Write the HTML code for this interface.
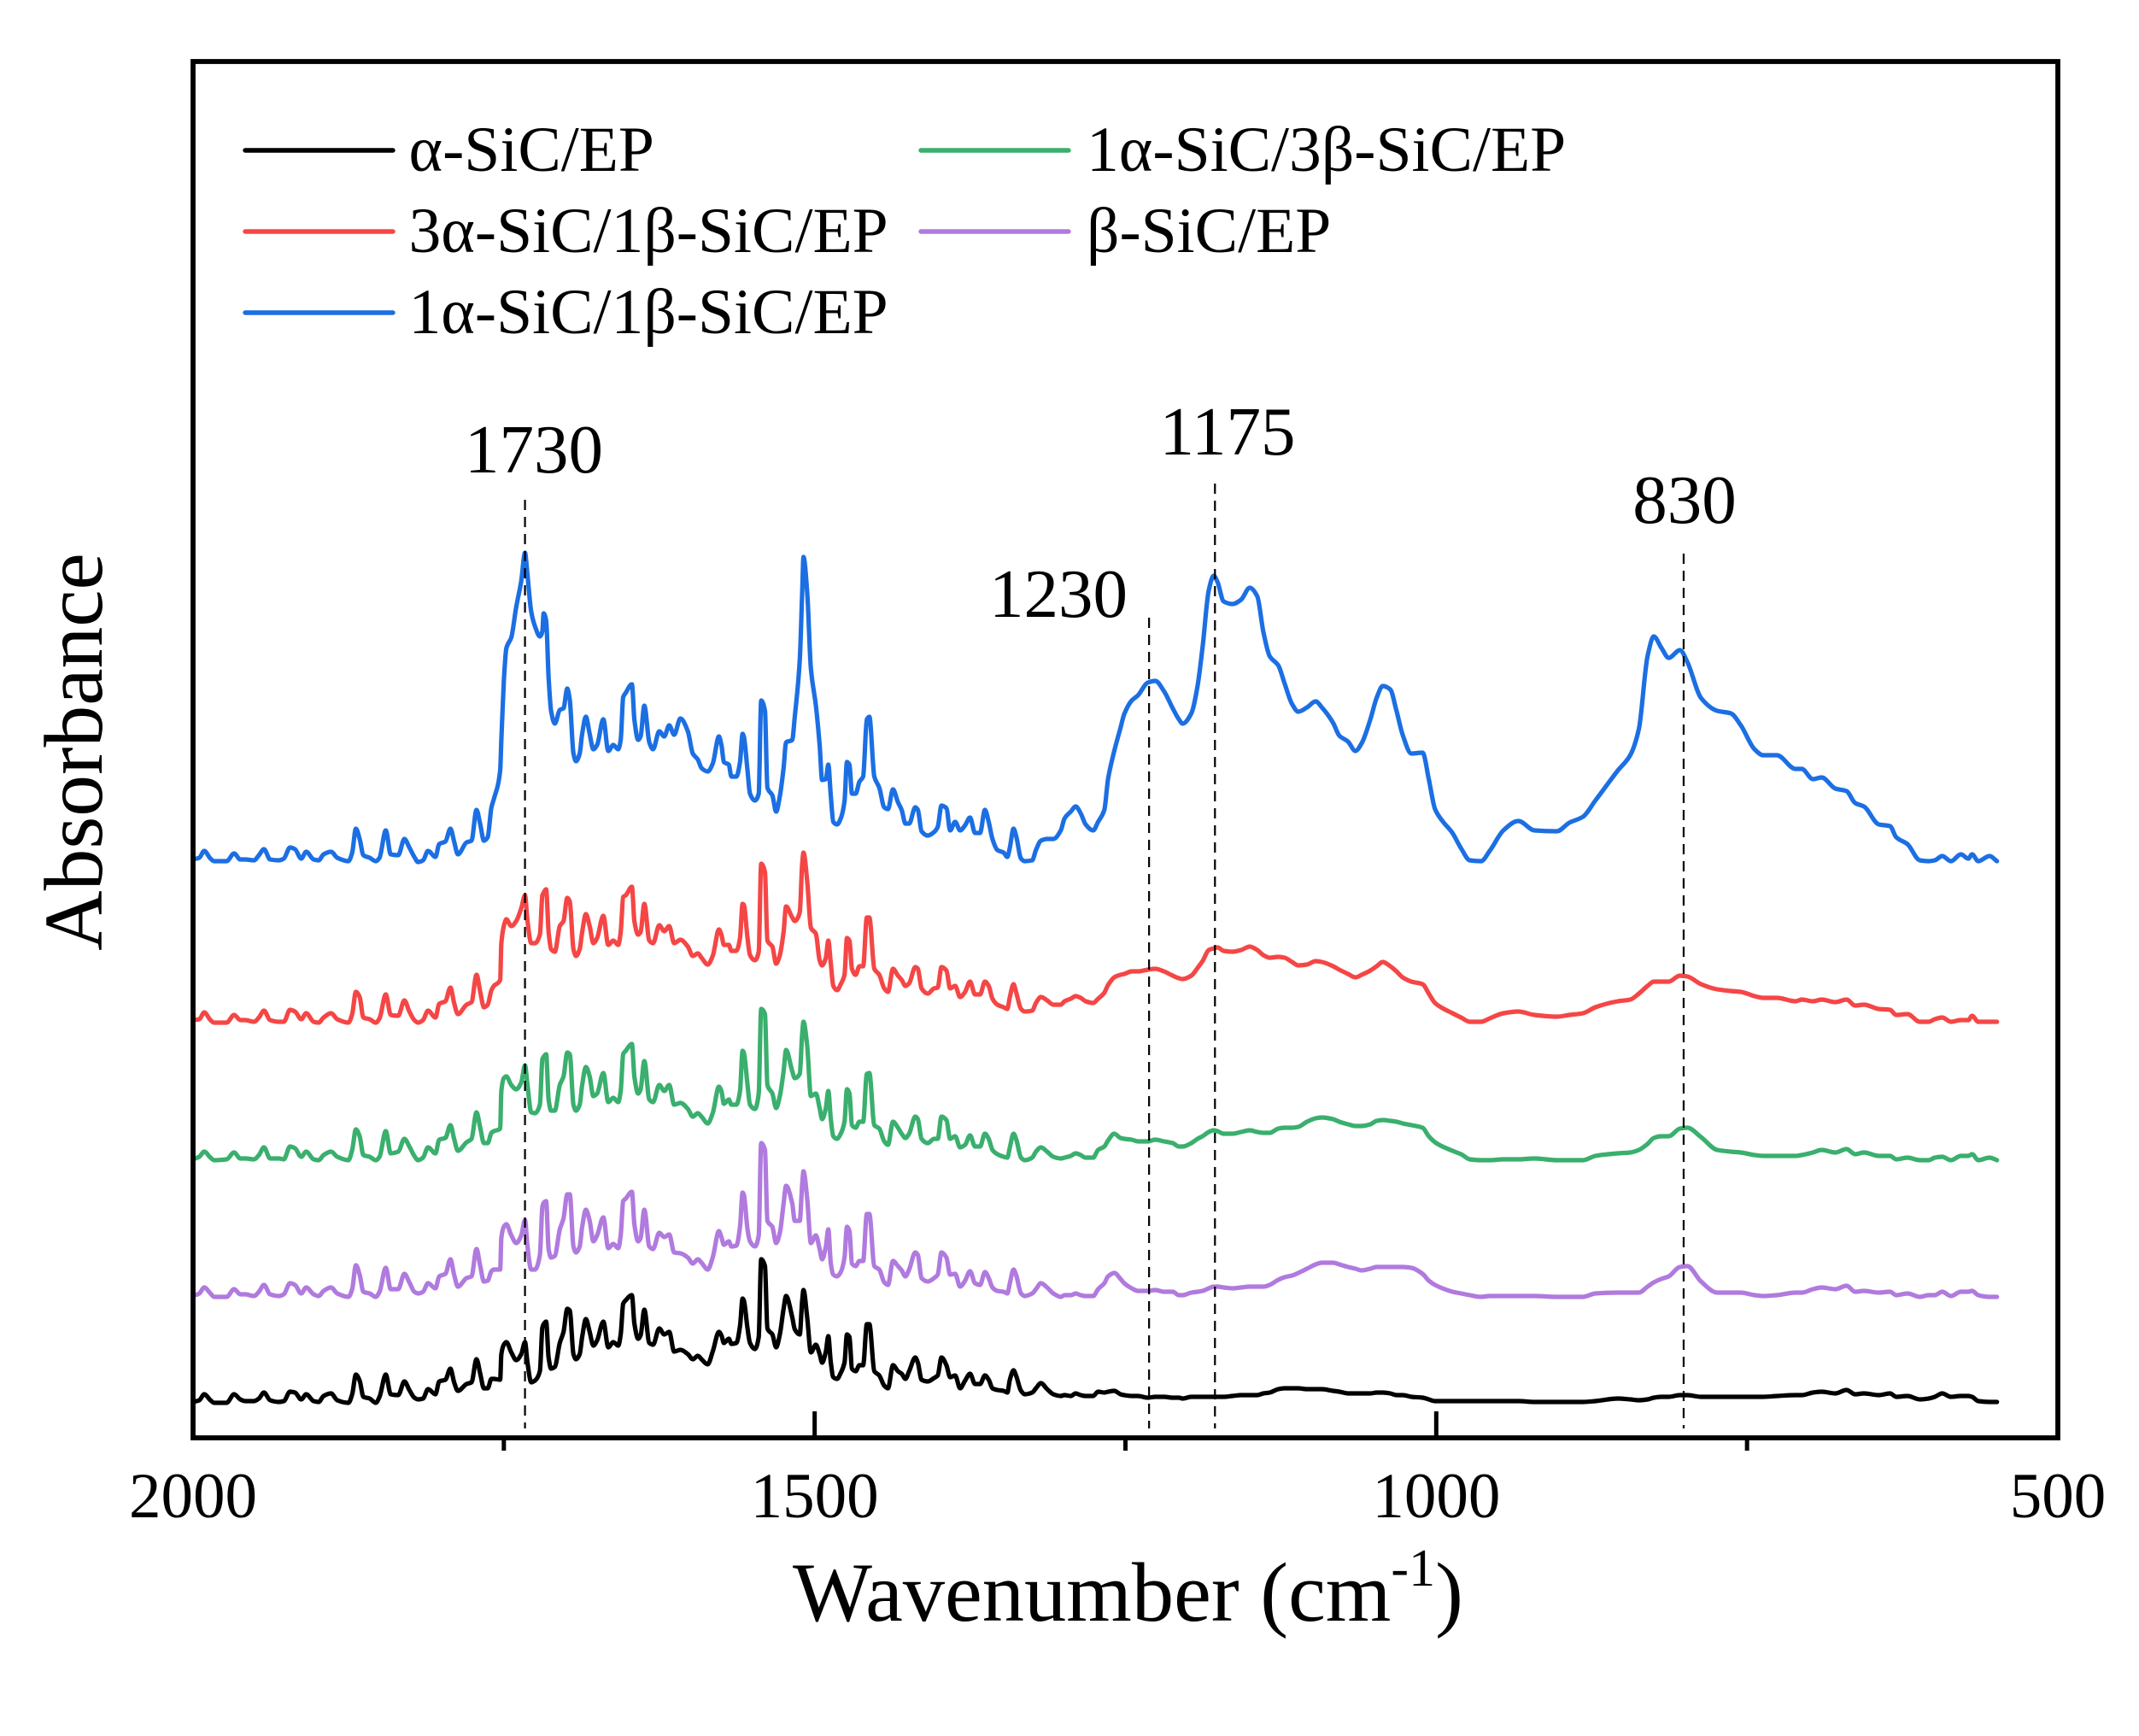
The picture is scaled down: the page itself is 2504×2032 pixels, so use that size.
<!DOCTYPE html>
<html lang="en">
<head>
<meta charset="utf-8">
<title>Absorbance spectra</title>
<style>
html,body{margin:0;padding:0;background:#fff}
svg{display:block}
text{font-family:"Liberation Serif","Noto Serif CJK SC",serif;fill:#000}
</style>
</head>
<body>
<svg id="chart" xmlns="http://www.w3.org/2000/svg" width="2504" height="2032" viewBox="0 0 2504 2032">
<rect x="0" y="0" width="2504" height="2032" fill="#fff"/>
<g id="series-layer"></g>
<g id="peak-layer"></g>
<rect x="226" y="72" width="2183" height="1611" fill="none" stroke="#000" stroke-width="5.8"/>
<g id="tick-layer"></g>
<text x="928" y="1897" font-size="98.5">Wavenumber (cm<tspan font-size="62" dy="-41">-1</tspan><tspan dy="41">)</tspan></text>
<text transform="translate(119 880) rotate(-90)" text-anchor="middle" font-size="97.5">Absorbance</text>
<g>
<line x1="287" x2="460" y1="176" y2="176" stroke="#000" stroke-width="5.4" stroke-linecap="round"/>
<text x="478.5" y="200" font-size="75.6">α-SiC/EP</text>
<line x1="287" x2="460" y1="271" y2="271" stroke="#f54646" stroke-width="5.4" stroke-linecap="round"/>
<text x="478.5" y="295" font-size="75.6">3α-SiC/1β-SiC/EP</text>
<line x1="287" x2="460" y1="366" y2="366" stroke="#1c6fe3" stroke-width="5.4" stroke-linecap="round"/>
<text x="478.5" y="390" font-size="75.6">1α-SiC/1β-SiC/EP</text>
<line x1="1078" x2="1251" y1="176" y2="176" stroke="#3aaf6e" stroke-width="5.4" stroke-linecap="round"/>
<text x="1272" y="200" font-size="75.6">1α-SiC/3β-SiC/EP</text>
<line x1="1078" x2="1251" y1="271" y2="271" stroke="#b07ade" stroke-width="5.4" stroke-linecap="round"/>
<text x="1272" y="295" font-size="75.6">β-SiC/EP</text>
</g>
<text x="625" y="553" font-size="81" text-anchor="middle">1730</text>
<text x="1437" y="532" font-size="81" text-anchor="middle">1175</text>
<text x="1239" y="722" font-size="81" text-anchor="middle">1230</text>
<text x="1972" y="612" font-size="81" text-anchor="middle">830</text>
</svg>
<script>
const wavenumbers=[
2000,1995,1991,1986,1983,1973,1967,1962,1958,1951,1947,1943,1938,1931,1927,1922,1918,1913,1909,1903,1899,1895,1889,1884,1875,1872,1869,1866,1863,1858,1853,1850,1845,1841,
1835,1830,1826,1822,1819,1815,1811,1805,1802,1797,1793,1790,1787,1780,1776,1772,1769,1766,1763,1760,1758,1753,1752,1750,1748,1744,1740,1736,1733,1731,1728,1725,1721,1719,1718,1716,1714,1712,1709,1705,1702,1699,1697,1694,1692,1689,1687,1684,1681,1678,
1675,1670,1666,1662,1658,1656,1654,1652,1647,1645,1642,1640,1637,1633,1630,1625,1621,1617,1613,1608,1602,1598,1594,1591,1586,1582,1577,1575,1573,1569,1567,1563,1560,1558,1557,1554,1552,1548,1545,1543,1540,1538,1534,1531,1528,1525,1523,1518,
1516,1512,1510,1509,1506,1503,1499,1496,1494,1491,1489,1487,1485,1482,1479,1476,1474,1472,1470,1467,1464,1461,1458,1456,1452,1448,1444,1441,1437,1433,1430,1427,1424,1419,1417,1414,1409,1404,1401,1398,1394,1391,1387,1383,1379,1375,1371,1367,1363,1360,
1357,1353,1348,1345,1343,1340,1338,1334,1331,1325,1322,1318,1313,1308,1302,1299,1294,1290,1286,1282,1276,1272,1267,1264,1259,1254,1251,1245,1240,1232,1226,1219,1212,1207,1204,
1197,1192,1188,1183,1179,1176,1171,1164,1157,1150,1144,1139,1134,1127,1122,1116,1111,1104,1097,1092,1083,1078,1071,1065,1060,1053,1048,1043,1037,1032,1027,1020,1011,1006,1001,995,987,980,973,964,957,946,934,
921,903,893,882,872,854,844,837,830,825,819,813,804,798,787,774,763,755,744,737,726,711,706,697,690,679,670,663,656,644,635,630,621,611,604,599,593,586,578,572,569,564,555,549
];
const alphaSiC=[
43,45,52,45,42,42,52,46,44,44,47,54,45,43,44,55,54,46,52,44,43,50,53,45,42,52,75,68,49,47,42,49,75,52,
51,67,57,48,46,47,58,52,67,69,82,66,56,64,66,93,76,59,59,70,70,69,99,110,113,101,92,99,113,89,66,68,79,130,134,137,95,82,84,112,125,152,150,99,93,99,119,140,125,109,
115,137,107,113,109,122,158,162,168,135,117,121,151,112,110,129,122,125,102,104,99,93,97,93,87,102,125,121,112,117,111,112,132,164,162,129,112,105,119,210,202,129,122,107,122,152,167,142,
128,122,162,174,142,101,110,99,89,102,120,89,72,70,77,89,122,119,82,79,86,86,134,134,79,74,62,59,86,79,76,70,79,95,89,69,67,71,74,95,86,72,74,59,68,76,64,64,74,69,
59,57,56,54,69,80,74,56,52,54,59,65,58,52,50,51,50,53,51,50,50,55,54,55,56,52,51,50,50,48,49,49,48,48,47,
49,49,49,49,49,49,49,50,51,51,51,53,54,58,59,59,59,58,58,58,56,55,53,53,53,53,54,54,53,51,51,49,48,46,44,44,44,44,44,44,44,44,44,
43,43,43,43,44,47,46,45,46,48,49,49,51,51,49,49,49,49,49,49,50,51,51,54,55,53,57,52,53,51,53,49,50,46,47,49,53,49,50,50,49,44,43,43
];
const betaSiC=[
167,170,177,170,166,166,175,169,169,167,172,180,169,167,169,182,180,170,177,169,167,173,177,170,166,175,203,192,172,170,166,172,200,175,
175,193,183,172,170,172,182,176,190,193,210,192,178,188,190,222,202,184,185,196,198,198,235,248,251,238,229,238,256,225,198,198,215,271,276,278,222,212,214,245,258,286,286,225,218,225,248,268,255,231,
238,259,223,228,223,238,278,281,289,251,231,235,268,225,222,241,236,239,218,217,212,205,210,206,198,212,243,236,227,231,225,226,248,288,286,245,231,225,238,346,338,255,248,229,241,275,296,275,
255,255,298,313,281,229,238,222,210,225,245,205,192,190,195,212,248,243,205,202,208,208,263,263,202,198,183,180,208,202,197,190,198,218,215,188,184,188,192,218,212,192,193,178,185,196,182,180,195,188,
177,173,172,170,182,198,192,170,167,170,175,182,177,170,166,168,168,170,168,167,167,175,182,190,194,187,182,176,173,173,174,172,172,168,168,
171,172,173,176,178,178,177,176,177,178,178,178,180,186,189,191,194,199,204,206,206,204,201,199,197,199,201,201,201,201,201,200,193,185,180,176,172,170,168,166,167,167,167,
167,166,166,166,170,171,171,171,178,183,187,190,201,202,184,171,171,171,168,167,168,171,171,175,177,175,179,172,173,171,172,168,170,166,168,168,172,167,172,172,173,168,166,166
];
const oneAlphaThreeBeta=[
327,330,336,329,326,327,335,328,328,327,332,341,328,328,327,342,340,330,336,327,326,332,336,330,326,338,362,354,332,330,326,330,360,334,
336,351,342,331,326,329,341,334,350,352,367,351,337,347,351,382,364,346,346,358,360,363,407,422,424,414,409,417,437,414,382,381,391,444,447,450,397,384,384,414,424,452,450,391,384,391,414,435,424,401,
404,428,394,399,394,407,450,454,462,424,404,409,442,397,394,414,407,414,391,393,386,377,381,377,369,381,412,407,392,397,391,391,407,454,452,414,391,386,404,503,497,414,404,387,401,430,455,430,
422,427,474,488,460,401,404,387,374,387,407,374,354,351,357,371,409,404,367,364,371,371,427,428,367,363,348,344,371,364,357,352,357,377,374,351,346,351,351,377,373,351,354,341,344,355,342,342,357,351,
338,333,330,329,341,357,351,329,326,329,336,341,336,330,328,329,331,334,332,329,329,338,342,349,357,352,351,350,348,348,350,348,346,342,342,
346,351,354,359,361,360,357,357,359,361,359,358,358,363,364,364,365,371,375,376,374,371,368,366,366,368,372,373,372,371,369,367,364,354,347,342,337,333,327,326,326,327,327,
328,326,326,326,331,334,335,338,345,352,354,354,363,364,353,338,336,335,332,331,331,331,332,335,338,335,339,333,335,331,331,327,329,326,326,329,330,326,331,331,333,326,329,326
];
const threeAlphaOneBeta=[
490,491,499,490,487,487,496,490,490,488,493,501,490,488,488,502,500,491,498,488,487,493,498,491,487,497,523,517,493,491,487,492,520,496,
495,513,500,490,487,490,501,493,509,512,528,510,497,508,511,543,523,505,508,525,530,537,580,600,608,600,606,621,636,606,580,580,590,636,639,643,593,573,570,600,606,633,629,573,565,573,593,614,600,580,
586,612,578,583,578,593,634,636,646,606,590,593,626,583,580,601,594,600,580,584,576,565,568,563,555,565,596,590,578,578,571,571,586,626,625,586,566,560,570,673,663,583,576,556,566,593,623,610,
606,616,673,686,653,598,591,560,554,563,583,556,530,525,532,543,586,583,550,543,553,553,610,610,550,543,527,523,550,542,537,530,533,552,550,527,521,527,528,552,548,527,530,517,523,535,520,520,535,530,
515,508,505,503,517,532,523,503,500,501,510,517,513,508,508,512,515,518,516,512,510,515,522,531,540,543,544,547,547,549,550,547,542,539,538,
542,551,559,572,574,575,571,570,572,576,572,566,563,564,563,558,554,555,559,558,553,549,544,540,543,548,553,558,553,547,540,535,532,521,510,504,498,493,488,488,492,498,500,
496,494,496,498,505,512,514,521,530,535,535,535,542,541,532,526,524,523,518,516,516,512,514,512,514,511,514,507,508,503,502,496,497,488,488,491,493,488,490,490,495,488,488,488
];
const oneAlphaOneBeta=[
678,680,688,679,676,676,685,678,678,677,683,690,678,677,679,692,690,679,687,678,677,684,687,680,676,686,714,702,683,680,676,680,712,684,
683,702,692,681,675,677,688,681,696,699,714,699,684,698,700,736,719,700,704,739,749,782,818,887,925,938,974,1004,1037,1011,968,951,939,945,966,958,891,852,837,853,855,878,865,802,793,802,825,845,825,807,
812,842,805,812,807,818,868,873,883,842,818,822,858,815,807,828,822,835,824,843,828,802,795,785,781,790,822,812,792,789,775,775,792,825,822,782,755,747,755,864,852,762,753,734,752,785,815,818,
845,911,991,1032,991,901,858,812,771,772,789,752,722,719,726,746,792,789,755,755,769,775,842,845,775,762,739,737,760,745,736,720,720,739,736,711,706,710,716,741,738,712,722,712,718,727,709,709,736,722,
702,689,686,681,692,714,706,679,676,677,689,700,702,702,712,726,734,740,732,719,712,722,736,772,805,832,848,864,870,885,887,875,855,842,837,
849,881,926,993,1010,1003,980,977,982,996,986,944,916,905,884,860,851,856,863,856,838,823,816,805,814,842,867,881,877,852,824,802,803,772,737,723,709,691,677,676,688,712,723,
712,711,721,728,747,782,800,831,916,939,926,914,923,909,867,852,849,835,807,800,800,784,784,772,774,761,758,744,740,719,717,704,696,677,676,677,682,676,684,679,684,676,682,676
];
const seriesValues=[alphaSiC,betaSiC,oneAlphaThreeBeta,threeAlphaOneBeta,oneAlphaOneBeta];
const seriesNames=['series-alpha-sic','series-beta-sic','series-1a-3b-sic','series-3a-1b-sic','series-1a-1b-sic'];
const seriesColors=['#000000','#b07ade','#3aaf6e','#f54646','#1c6fe3'];
const majorTicks=[2000,1500,1000,500];
const minorTicks=[1750,1250,750];
const peakWavenumbers=[1733,1231,1178,801];
const peakTops=[1099,961,1118,1036];
const peakBase=12;

const plotLeft=226,plotRight=2409,plotBottom=1684,plotTop=72;
const wnMax=2000,wnMin=500,absMin=0,absMax=1612;
function xScale(w){return plotLeft+(wnMax-w)/(wnMax-wnMin)*(plotRight-plotLeft);}
function yScale(a){return plotBottom-(a-absMin)/(absMax-absMin)*(plotBottom-plotTop);}
const NS='http://www.w3.org/2000/svg';
const seriesLayer=document.getElementById('series-layer');
const peakLayer=document.getElementById('peak-layer');
const tickLayer=document.getElementById('tick-layer');

function monotonePath(xs,ys){
  const n=xs.length;
  const d=[],m=[];
  for(let i=0;i<n-1;i++){d.push((ys[i+1]-ys[i])/(xs[i+1]-xs[i]));}
  m.push(d[0]);
  for(let i=1;i<n-1;i++){
    if(d[i-1]*d[i]<=0){m.push(0);}
    else{
      const h0=xs[i]-xs[i-1],h1=xs[i+1]-xs[i];
      m.push(3*(h0+h1)/((2*h1+h0)/d[i-1]+(h1+2*h0)/d[i]));
    }
  }
  m.push(d[n-2]);
  let p='M'+xs[0].toFixed(1)+' '+ys[0].toFixed(1);
  for(let i=0;i<n-1;i++){
    const h=(xs[i+1]-xs[i])/3;
    p+='C'+(xs[i]+h).toFixed(1)+' '+(ys[i]+m[i]*h).toFixed(1)+' '+(xs[i+1]-h).toFixed(1)+' '+(ys[i+1]-m[i+1]*h).toFixed(1)+' '+xs[i+1].toFixed(1)+' '+ys[i+1].toFixed(1);
  }
  return p;
}

seriesValues.forEach(function(vals,i){
  const n=Math.min(vals.length,wavenumbers.length);
  const xs=[],ys=[];
  for(let k=0;k<n;k++){xs.push(xScale(wavenumbers[k]));ys.push(yScale(vals[k]));}
  const el=document.createElementNS(NS,'path');
  
  
  el.setAttribute('d',monotonePath(xs,ys));
  el.setAttribute('fill','none');
  el.setAttribute('stroke',seriesColors[i]);
  el.setAttribute('stroke-width','5.2');
  el.setAttribute('stroke-linejoin','round');
  el.setAttribute('stroke-linecap','round');
  seriesLayer.appendChild(el);
});

peakWavenumbers.forEach(function(w,i){
  const el=document.createElementNS(NS,'line');
  
  
  el.setAttribute('x1',xScale(w));
  el.setAttribute('x2',xScale(w));
  el.setAttribute('y1',yScale(peakTops[i]));
  el.setAttribute('y2',yScale(peakBase));
  el.setAttribute('stroke','#000');
  el.setAttribute('stroke-width','2.2');
  el.setAttribute('stroke-dasharray','12 8');
  peakLayer.appendChild(el);
});

majorTicks.forEach(function(w){
  const t=document.createElementNS(NS,'line');
  
  
  t.setAttribute('x1',xScale(w));
  t.setAttribute('x2',xScale(w));
  t.setAttribute('y1','1683');
  t.setAttribute('y2','1652');
  t.setAttribute('stroke','#000');
  t.setAttribute('stroke-width','5');
  tickLayer.appendChild(t);
  const lab=document.createElementNS(NS,'text');
  
  
  lab.setAttribute('x',xScale(w));
  lab.setAttribute('y','1776');
  lab.setAttribute('font-size','75');
  lab.setAttribute('text-anchor','middle');
  lab.textContent=String(w);
  tickLayer.appendChild(lab);
});

minorTicks.forEach(function(w){
  const t=document.createElementNS(NS,'line');
  
  
  t.setAttribute('x1',xScale(w));
  t.setAttribute('x2',xScale(w));
  t.setAttribute('y1','1683');
  t.setAttribute('y2','1698');
  t.setAttribute('stroke','#000');
  t.setAttribute('stroke-width','5');
  tickLayer.appendChild(t);
});
</script>
</body>
</html>
